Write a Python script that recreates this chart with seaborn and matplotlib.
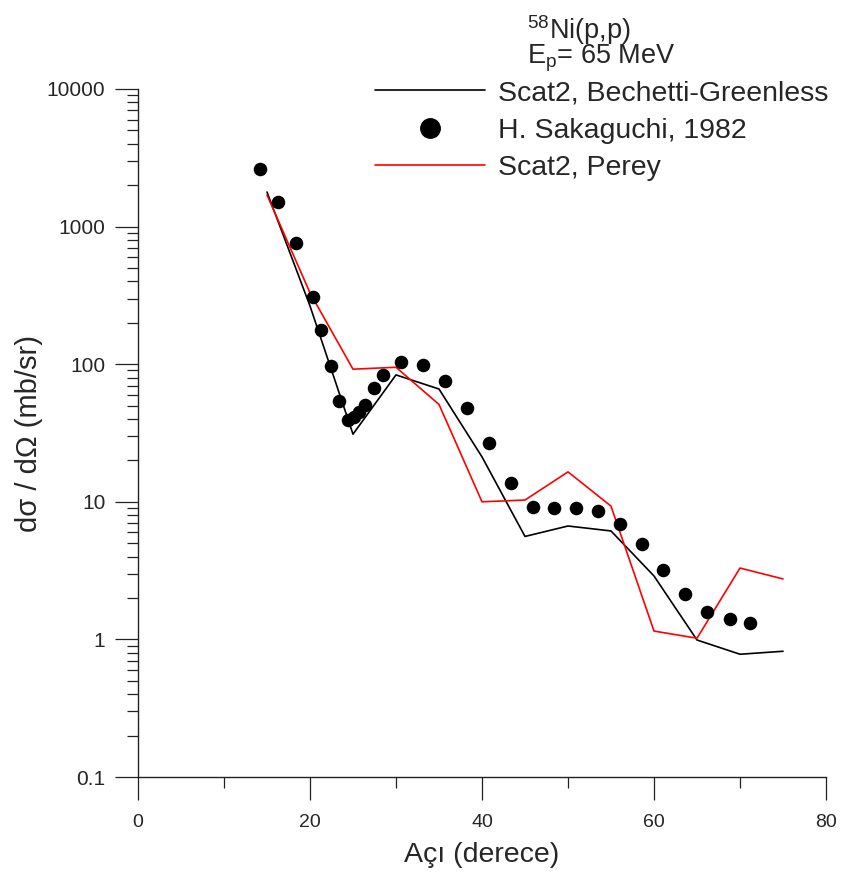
import matplotlib
matplotlib.use("Agg")
import matplotlib.pyplot as plt
import seaborn as sns
import numpy as np
from matplotlib.ticker import LogLocator, FixedLocator, NullFormatter, FuncFormatter
from matplotlib.lines import Line2D

# ---- data ----
exp_angle = [14.2, 16.3, 18.4, 20.3, 21.3, 22.4, 23.4, 24.4, 25.1, 25.7, 26.4, 27.4, 28.5,
             30.6, 33.1, 35.7, 38.3, 40.8, 43.4, 45.9, 48.4, 50.9, 53.5, 56.0, 58.6, 61.0,
             63.6, 66.2, 68.8, 71.2]
exp_xs = [2620, 1510, 760, 307, 177, 97, 54, 39.3, 41.3, 45, 50.5, 67, 83.5,
          104, 99, 75, 48, 26.7, 13.7, 9.2, 9.0, 9.0, 8.6, 6.9, 4.9, 3.19,
          2.14, 1.58, 1.41, 1.32]

th_angle = [15, 20, 25, 30, 35, 40, 45, 50, 55, 60, 65, 70, 75]
bg_xs = [1783, 265, 31, 83.6, 66, 21.2, 5.6, 6.67, 6.14, 2.89, 0.99, 0.78, 0.82]
perey_xs = [1698, 330, 92, 95, 51, 10.0, 10.3, 16.5, 9.3, 1.15, 1.02, 3.3, 2.75]

labels = ["Scat2, Bechetti-Greenless", "H. Sakaguchi, 1982", "Scat2, Perey"]
x_ticks = [0, 20, 40, 60, 80]
y_ticks = [0.1, 1, 10, 100, 1000, 10000]

sns.set_style("ticks")
plt.rcParams['font.family'] = ['Liberation Sans', 'DejaVu Sans']
plt.rcParams['mathtext.fontset'] = 'custom'
plt.rcParams['mathtext.rm'] = 'Liberation Sans'
plt.rcParams['mathtext.it'] = 'Liberation Sans'

W, H = 843, 872
fig = plt.figure(figsize=(W / 100, H / 100), dpi=100)
ax = fig.add_axes([138 / W, 1 - 777 / H, (826 - 138) / W, (777 - 89) / H])

sns.lineplot(x=th_angle, y=bg_xs, ax=ax, color="black", linewidth=1.2, label=labels[0])
sns.scatterplot(x=exp_angle, y=exp_xs, ax=ax, color="black", s=95, edgecolor="black",
                linewidth=0, label=labels[1], zorder=3)
sns.lineplot(x=th_angle, y=perey_xs, ax=ax, color="#ff0000", linewidth=1.2, label=labels[2])
ax.get_legend().remove()

ax.set_yscale("log")
ax.set_xlim(0, 80)
ax.set_ylim(0.1, 10000)

ax.xaxis.set_major_locator(FixedLocator(x_ticks))
ax.xaxis.set_minor_locator(FixedLocator([10, 30, 50, 70]))
ax.set_xticklabels([str(v) for v in x_ticks])
ax.yaxis.set_major_locator(FixedLocator(y_ticks))
ax.yaxis.set_major_formatter(FuncFormatter(lambda v, p: ("%g" % v)))
ax.yaxis.set_minor_locator(LogLocator(base=10, subs=np.arange(2, 10), numticks=20))
ax.yaxis.set_minor_formatter(NullFormatter())

for s in ["top", "right"]:
    ax.spines[s].set_visible(False)
for s in ["left", "bottom"]:
    ax.spines[s].set_linewidth(1.0)
    ax.spines[s].set_color("#222222")

ax.tick_params(axis="both", which="major", direction="out", length=16.5, width=0.9,
               color="#222222")
ax.tick_params(axis="x", which="major", labelsize=14, pad=10)
ax.tick_params(axis="y", which="major", labelsize=15, pad=7)
ax.tick_params(axis="both", which="minor", direction="out", length=8, width=0.9,
               color="#222222")

ax.set_xlabel("Açı (derece)", fontsize=20.5, labelpad=8)
ax.set_ylabel("dσ / dΩ (mb/sr)", fontsize=21)
ax.yaxis.set_label_coords(-0.138, 0.5)

handles = [Line2D([], [], color="black", linewidth=1.2),
           Line2D([], [], color="black", marker="o", linestyle="none", markersize=14),
           Line2D([], [], color="#ff0000", linewidth=1.2)]
fig.legend(handles, labels, loc="upper left", bbox_to_anchor=(375 / W, 1 - 80 / H),
           frameon=False, fontsize=20.5, handlelength=3.86, handletextpad=0.46,
           labelspacing=0.41, borderpad=0, borderaxespad=0)

fig.text(527 / W, 1 - 13 / H, "$^{58}$Ni(p,p)\nE$_{\\rm p}$= 65 MeV", fontsize=19.5,
         ha="left", va="top", linespacing=0.78)

fig.savefig("out.png", dpi=100)
